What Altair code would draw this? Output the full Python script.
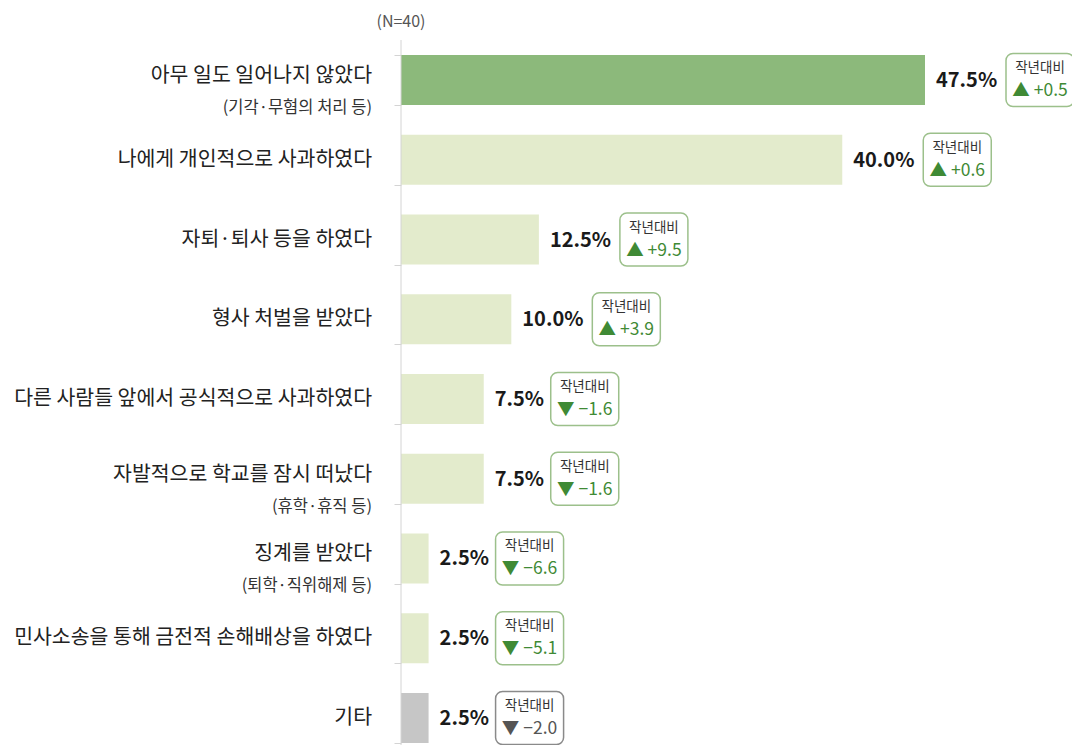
import altair as alt
import pandas as pd

categories = [
    "아무 일도 일어나지 않았다",
    "나에게 개인적으로 사과하였다",
    "자퇴·퇴사 등을 하였다",
    "형사 처벌을 받았다",
    "다른 사람들 앞에서 공식적으로 사과하였다",
    "자발적으로 학교를 잠시 떠났다",
    "징계를 받았다",
    "민사소송을 통해 금전적 손해배상을 하였다",
    "기타",
]
sublabels = ["(기각·무혐의 처리 등)", "", "", "", "", "(휴학·휴직 등)", "(퇴학·직위해제 등)", "", ""]
values = [47.5, 40.0, 12.5, 10.0, 7.5, 7.5, 2.5, 2.5, 2.5]
changes = [0.5, 0.6, 9.5, 3.9, -1.6, -1.6, -6.6, -5.1, -2.0]
groups = ["top", "base", "base", "base", "base", "base", "base", "base", "etc"]
note = "(N=40)"

FONT = "Noto Sans CJK KR"

def fmt_change(c):
    arrow = "▲" if c > 0 else "▼"
    num = f"+{c:.1f}" if c > 0 else f"−{abs(c):.1f}"
    return f"{arrow} {num}"

df = pd.DataFrame({
    "cat": categories,
    "sub": sublabels,
    "value": values,
    "change": changes,
    "group": groups,
})
df["vlabel"] = df["value"].map(lambda v: f"{v:.1f}%")
df["clabel"] = df["change"].map(fmt_change)
df["badge"] = ["green" if g != "etc" else "gray" for g in groups]

W = 524
H = 688

y_axis = alt.Axis(labels=False, title=None, domain=False, ticks=True,
                  tickBand="extent", tickSize=7, tickColor="#d4d4d4", grid=False)
y_scale = alt.Scale(paddingInner=0.373, paddingOuter=0)
x_scale = alt.Scale(domain=[0, 47.5], nice=False)

def X():
    return alt.X("value:Q", scale=x_scale, axis=None)

def Y():
    return alt.Y("cat:N", sort=categories, scale=y_scale, axis=y_axis)

base = alt.Chart(df)

bars = base.mark_bar().encode(
    x=X(),
    y=Y(),
    color=alt.Color("group:N", scale=alt.Scale(domain=["top", "base", "etc"],
                                               range=["#8cb97b", "#e3ebcc", "#c6c6c6"]),
                    legend=None),
)

axis_line = alt.Chart(pd.DataFrame({"v": [0]})).mark_rule(color="#d4d4d4", strokeWidth=1).encode(
    x=alt.X("v:Q", scale=x_scale, axis=None), y=alt.value(-15), y2=alt.value(H + 12)
)

has_sub = alt.datum.sub != ""

main_lab_plain = base.mark_text(align="right", baseline="middle", font=FONT,
                                fontSize=20.5, color="#222222").encode(
    x=alt.value(-29), y=Y(), text="cat:N"
).transform_filter(~has_sub)

main_lab_sub = base.mark_text(align="right", baseline="middle", font=FONT,
                              fontSize=20.5, color="#222222", dy=-4).encode(
    x=alt.value(-29), y=Y(), text="cat:N"
).transform_filter(has_sub)

sub_lab = base.mark_text(align="right", baseline="middle", font=FONT,
                         fontSize=16.5, color="#333333", dy=28).encode(
    x=alt.value(-29), y=Y(), text="sub:N"
).transform_filter(has_sub)

val_lab = base.mark_text(align="left", baseline="middle", font=FONT,
                         fontSize=20, fontWeight="bold", color="#1a1a1a", dx=11, dy=1).encode(
    x=X(), y=Y(), text="vlabel:N"
)

def badge_layers(cond, off):
    rect = base.mark_rect(cornerRadius=7, fill="white", strokeWidth=1.5,
                          xOffset=off, x2Offset=off + 68, height=53).encode(
        x=X(), x2="value:Q",
        y=Y(),
        stroke=alt.Color("badge:N", scale=alt.Scale(domain=["green", "gray"],
                                                    range=["#9cc08b", "#8a8a8a"]), legend=None),
    ).transform_filter(cond)
    t1 = base.mark_text(align="center", baseline="middle", font=FONT, fontSize=13.5,
                        color="#333333", dx=off + 34, dy=-12).encode(
        x=X(), y=Y(),
        text=alt.value("작년대비"),
    ).transform_filter(cond)
    t2 = base.mark_text(align="center", baseline="middle", font=FONT, fontSize=17.5,
                        dx=off + 34, dy=11).encode(
        x=X(), y=Y(),
        text="clabel:N",
        color=alt.Color("badge:N", scale=alt.Scale(domain=["green", "gray"],
                                                   range=["#3f8a35", "#555555"]), legend=None),
    ).transform_filter(cond)
    return [rect, t1, t2]

big = alt.datum.value >= 10
small = alt.datum.value < 10

note_lab = alt.Chart(pd.DataFrame({"t": [note]})).mark_text(
    align="center", baseline="middle", font=FONT, fontSize=16, color="#555555"
).encode(x=alt.value(0), y=alt.value(-33), text="t:N")

chart = alt.layer(
    bars, axis_line, main_lab_plain, main_lab_sub, sub_lab, val_lab,
    *badge_layers(big, 81), *badge_layers(small, 67), note_lab,
).resolve_scale(color="independent").properties(
    width=W, height=H,
    background="white",
    autosize=alt.AutoSizeParams(type="none"),
    padding={"left": 393, "top": 47, "right": 147, "bottom": 2},
).configure_view(stroke=None, strokeWidth=0).configure_axis(grid=False)

chart.save("out.html", embed_options={"renderer": "svg", "actions": False})
